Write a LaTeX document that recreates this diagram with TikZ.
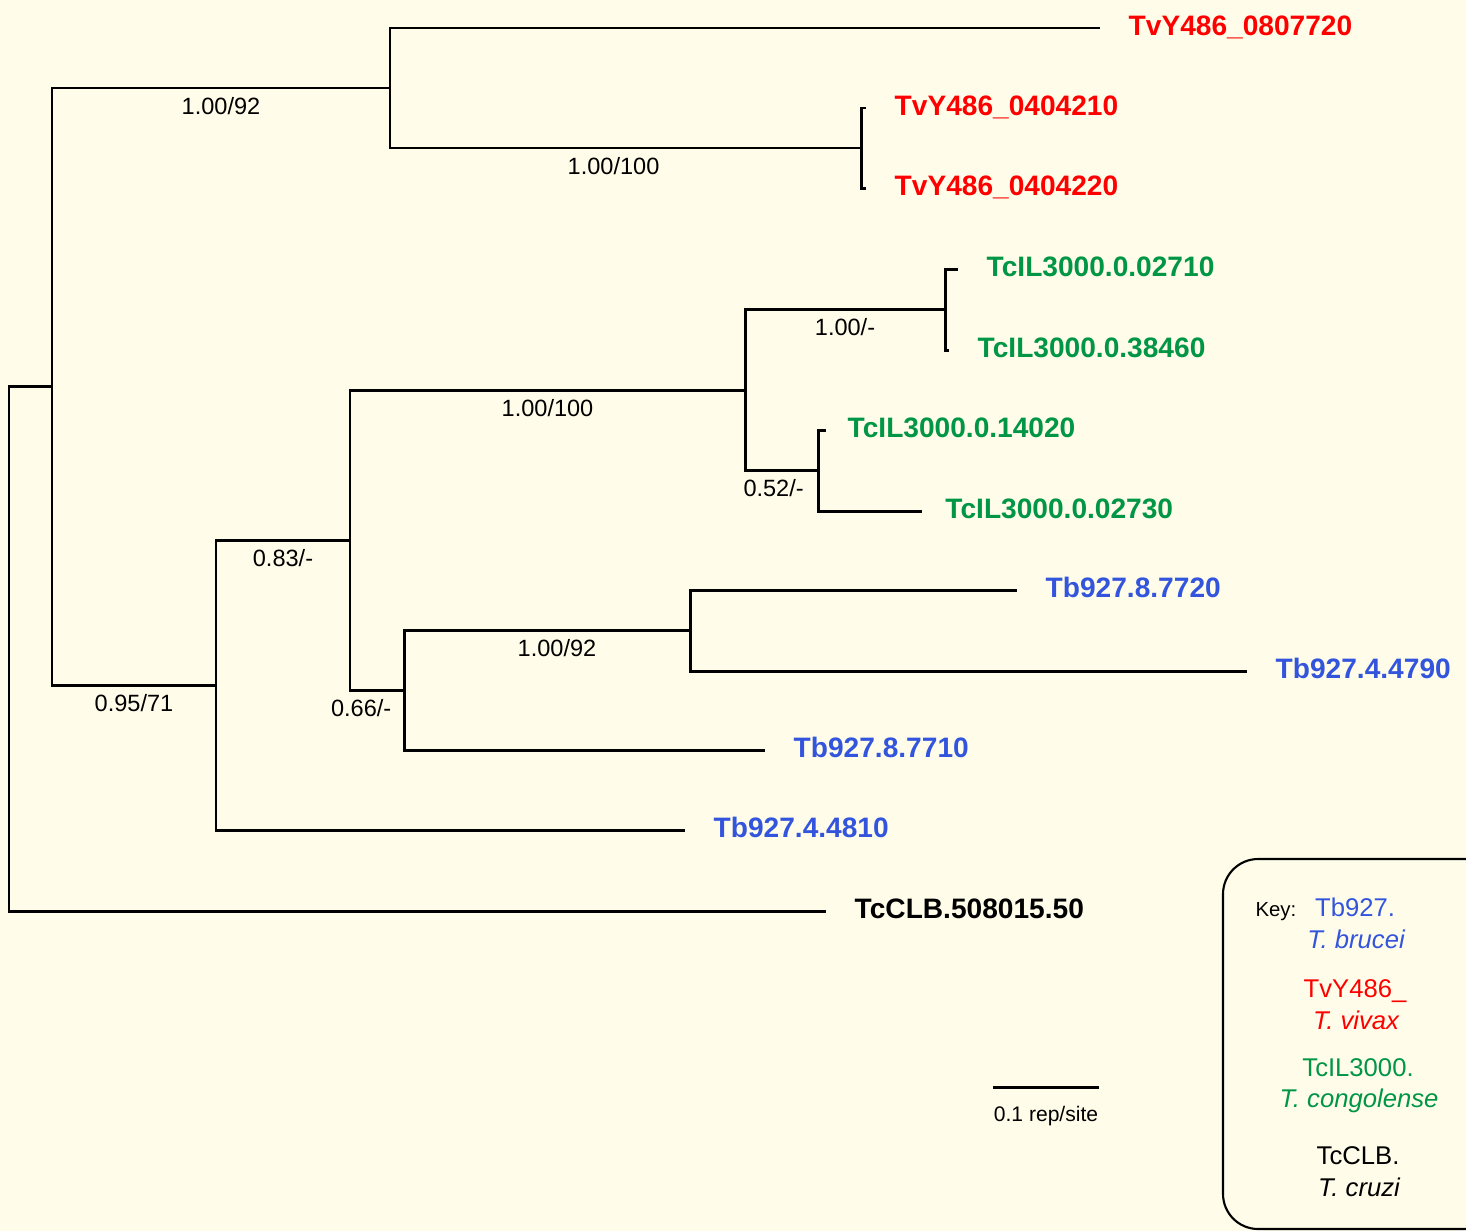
\documentclass[tikz,border=0pt]{standalone}
\usepackage{fontspec}
\setmainfont{Liberation Sans}
\usetikzlibrary{positioning}
\definecolor{paper}{RGB}{255,253,233}
\definecolor{brucei}{RGB}{51,85,221}
\definecolor{vivax}{RGB}{255,0,0}
\definecolor{congo}{RGB}{0,150,70}
\tikzset{
	branch/.style={to path={|- (\tikztotarget) \tikztonodes}},
	supp/.style={pos=0.75, below=4.5pt, inner sep=0pt, font=\fontsize{13.4}{16}\selectfont},
	leaf/.style={right=15.5pt of #1, yshift=1.6pt, inner sep=0pt, text height=11.5pt, text depth=0pt, font=\fontsize{16}{18}\selectfont\bfseries},
	keyname/.style={anchor=base, inner sep=0pt, font=\fontsize{14.6}{17}\selectfont},
}
\begin{document}
\begin{tikzpicture}[x=0.02cm, y=-0.02cm, line width=1.7pt]
		\fill[paper] (0,0) rectangle (1466,1231);
		\useasboundingbox (0,0) rectangle (1466,1231);

		% internal nodes
		\coordinate(r) at (9,649);
		\coordinate(a) at (52,386.5);
		\coordinate(b) at (390,88);
		\coordinate(d) at (861,148);
		\coordinate(c) at (216,685);
		\coordinate(e) at (350,540);
		\coordinate(f) at (745,390);
		\coordinate(h) at (945,309.5);
		\coordinate(i) at (818,470.5);
		\coordinate(g) at (404,690);
		\coordinate(j) at (690,630.5);

		% tips
		\coordinate(t1) at (1100,28);
		\coordinate(t2) at (866,108);
		\coordinate(t3) at (866,188);
		\coordinate(t4) at (958,269);
		\coordinate(t5) at (949,350);
		\coordinate(t6) at (826,430);
		\coordinate(t7) at (922,511);
		\coordinate(t8) at (1017,590);
		\coordinate(t9) at (1247,671);
		\coordinate(t10) at (765,750);
		\coordinate(t11) at (685,830);
		\coordinate(t12) at (826,911);

		\path [-](r) edge [branch] (a);
		\path [-](r) edge [branch] (t12);
		\path [-](a) edge [branch] node [supp] {1.00/92} (b);
		\path [-](a) edge [branch] node [supp] {0.95/71} (c);
		\path [-](b) edge [branch] (t1);
		\path [-](b) edge [branch] node [supp, xshift=-6.8pt] {1.00/100} (d);
		\path [-](d) edge [branch] (t2);
		\path [-](d) edge [branch] (t3);
		\path [-](c) edge [branch] node [supp] {0.83/-} (e);
		\path [-](c) edge [branch] (t11);
		\path [-](e) edge [branch] node [supp] {1.00/100} (f);
		\path [-](e) edge [branch] node [supp, xshift=-9pt] {0.66/-} (g);
		\path [-](f) edge [branch] node [supp] {1.00/-} (h);
		\path [-](f) edge [branch] node [supp, xshift=-4.5pt] {0.52/-} (i);
		\path [-](h) edge [branch] (t4);
		\path [-](h) edge [branch] (t5);
		\path [-](i) edge [branch] (t6);
		\path [-](i) edge [branch] (t7);
		\path [-](g) edge [branch] node [supp, xshift=5.7pt] {1.00/92} (j);
		\path [-](g) edge [branch] (t10);
		\path [-](j) edge [branch] (t8);
		\path [-](j) edge [branch] (t9);

		% tip labels
		\node[leaf=t1, vivax] (l1) {TvY486\_0807720};
		\node[leaf=t2, vivax] (l2) {TvY486\_0404210};
		\node[leaf=t3, vivax] (l3) {TvY486\_0404220};
		\node[leaf=t4, congo] (l4) {TcIL3000.0.02710};
		\node[leaf=t5, congo] (l5) {TcIL3000.0.38460};
		\node[leaf=t6, congo, xshift=-4pt] (l6) {TcIL3000.0.14020};
		\node[leaf=t7, congo, xshift=-3pt] (l7) {TcIL3000.0.02730};
		\node[leaf=t8, brucei] (l8) {Tb927.8.7720};
		\node[leaf=t9, brucei] (l9) {Tb927.4.4790};
		\node[leaf=t10, brucei] (l10) {Tb927.8.7710};
		\node[leaf=t11, brucei] (l11) {Tb927.4.4810};
		\node[leaf=t12] (l12) {TcCLB.508015.50};

		% scale bar
		\coordinate(s1) at (993,1087);
		\coordinate(s2) at (1099,1087);
		\path [-](s1) edge node [below=10pt, inner sep=0pt, font=\fontsize{12}{14}\selectfont] (sl) {0.1 rep/site} (s2);

		% key
		\draw[line width=1.2pt, rounded corners=20pt] (1223,859) rectangle (1530,1229);
		\node[anchor=base west, inner sep=0pt, font=\fontsize{11.6}{14}\selectfont] (key) at (1254,916) {Key:};
		\node[keyname, brucei] (k1) at (1355,916) {Tb927.};
		\node[keyname, brucei] (k2) at (1356,948) {\itshape T. brucei};
		\node[keyname, vivax] (k3) at (1355,997) {TvY486\_};
		\node[keyname, vivax] (k4) at (1356,1029) {\itshape T. vivax};
		\node[keyname, congo] (k5) at (1358,1076) {TcIL3000.};
		\node[keyname, congo] (k6) at (1359,1107) {\itshape T. congolense};
		\node[keyname] (k7) at (1358,1164) {TcCLB.};
		\node[keyname] (k8) at (1359,1196) {\itshape T. cruzi};
	\end{tikzpicture}
\end{document}
